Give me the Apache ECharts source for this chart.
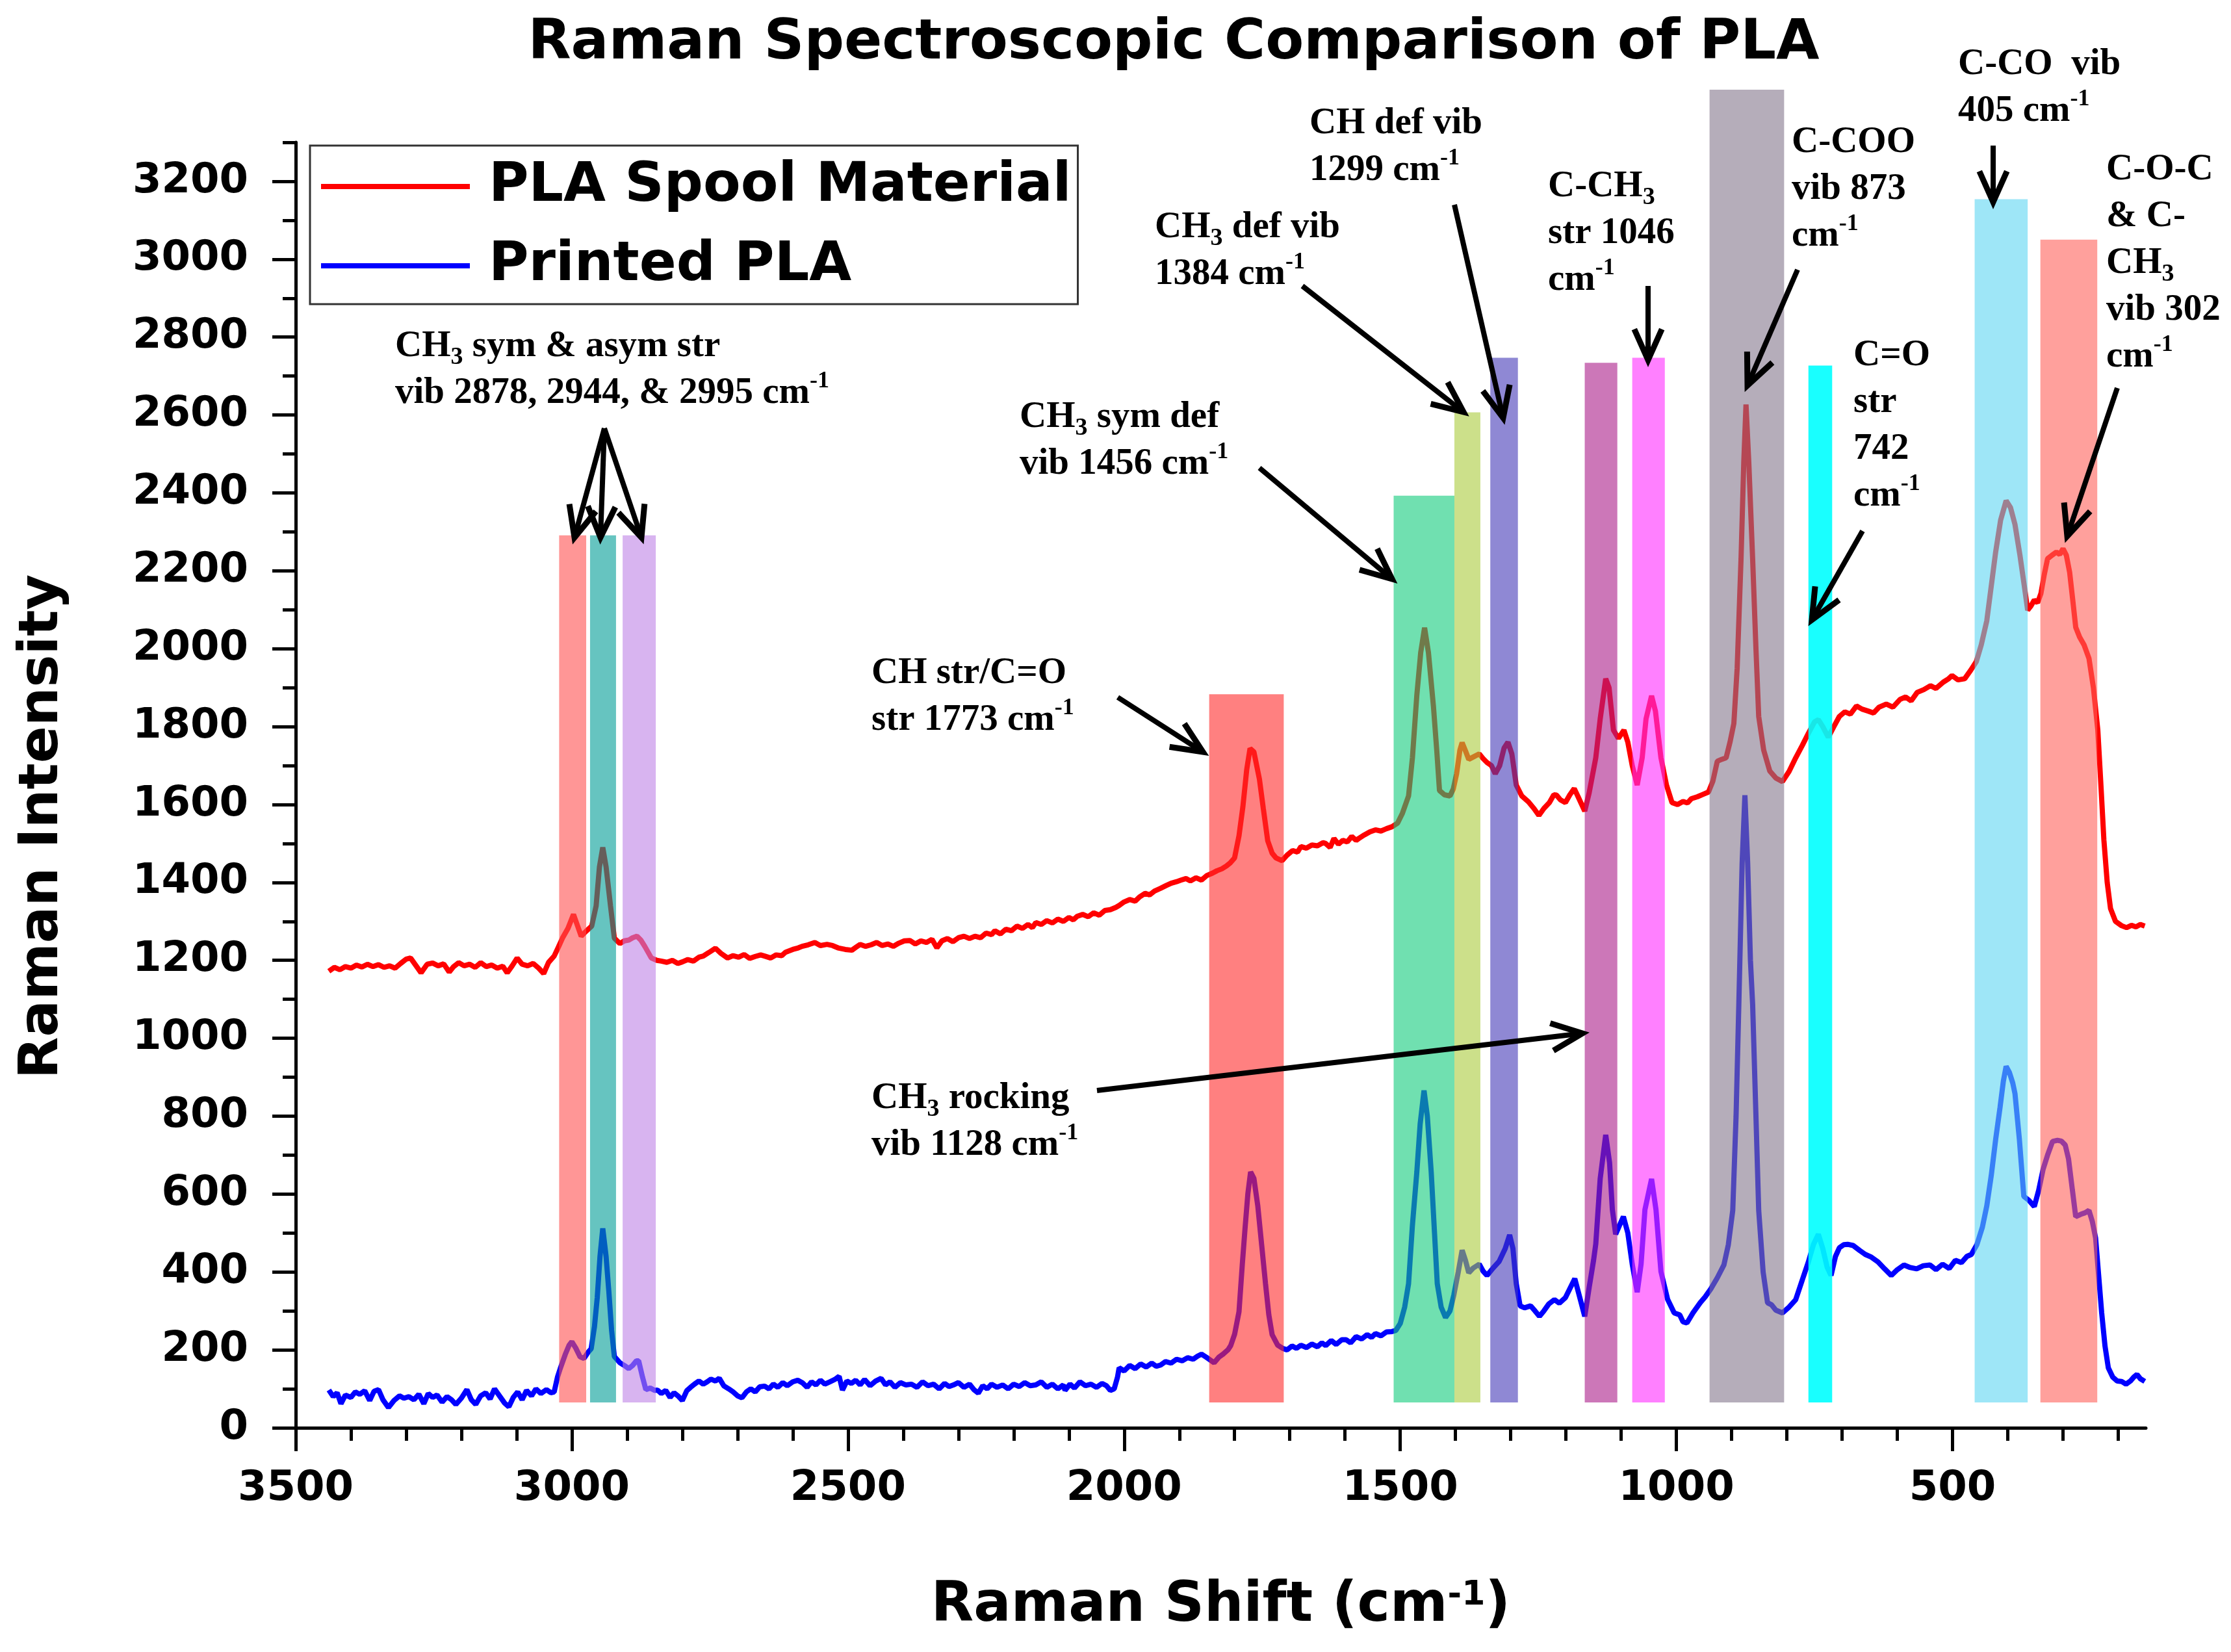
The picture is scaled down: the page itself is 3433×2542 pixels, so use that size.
<!DOCTYPE html>
<html>
<head>
<meta charset="utf-8">
<title>Raman Spectroscopic Comparison of PLA</title>
<script src="https://cdn.jsdelivr.net/npm/echarts@6/dist/echarts.min.js"></script>
<style>
html, body { margin: 0; padding: 0; background: #fff; }
#chart { width: 3433px; height: 2542px; }
</style>
</head>
<body>
<div id="chart"></div>
<script>
// Raman shift (cm-1), intensity
const spoolPLA = [
  [3440,1172],[3430,1182],[3420,1176],[3410,1184],[3400,1180],[3390,1188],[3380,1183],[3370,1190],[3360,1184],[3350,1189],
  [3340,1182],[3330,1186],[3320,1180],[3310,1192],[3300,1203],[3292,1206],[3283,1188],[3273,1168],[3262,1190],[3252,1193],
  [3242,1186],[3232,1191],[3222,1170],[3214,1184],[3205,1194],[3195,1186],[3185,1190],[3175,1182],[3165,1194],[3155,1184],
  [3145,1188],[3135,1180],[3125,1185],[3117,1168],[3108,1186],[3099,1206],[3090,1190],[3080,1186],[3070,1192],[3060,1180],
  [3051,1166],[3042,1195],[3032,1211],[3024,1235],[3017,1257],[3007,1282],[2997,1318],[2990,1290],[2983,1262],[2974,1275],
  [2964,1288],[2956,1340],[2950,1440],[2944,1490],[2938,1440],[2930,1340],[2923,1257],[2913,1243],[2905,1250],[2897,1252],
  [2890,1258],[2882,1262],[2875,1252],[2868,1236],[2856,1206],[2846,1200],[2838,1198],[2828,1195],[2818,1200],[2808,1192],
  [2800,1196],[2790,1202],[2780,1198],[2770,1208],[2762,1211],[2752,1220],[2740,1231],[2730,1218],[2718,1206],[2708,1212],
  [2698,1208],[2688,1215],[2678,1205],[2668,1210],[2658,1214],[2651,1211],[2640,1206],[2630,1214],[2620,1212],[2613,1221],
  [2600,1228],[2590,1232],[2583,1236],[2572,1240],[2560,1246],[2550,1238],[2538,1241],[2528,1238],[2518,1232],[2505,1228],
  [2493,1226],[2485,1234],[2478,1241],[2468,1236],[2458,1240],[2448,1246],[2438,1238],[2428,1242],[2418,1236],[2408,1244],
  [2398,1250],[2388,1251],[2378,1242],[2368,1250],[2358,1246],[2348,1254],[2339,1232],[2330,1250],[2320,1256],[2310,1248],
  [2300,1258],[2290,1262],[2280,1256],[2270,1262],[2260,1258],[2250,1270],[2240,1266],[2234,1276],[2224,1268],[2214,1280],
  [2204,1276],[2194,1288],[2184,1282],[2174,1292],[2166,1284],[2160,1297],[2150,1292],[2140,1302],[2130,1296],[2120,1306],
  [2110,1300],[2100,1310],[2092,1304],[2085,1313],[2075,1318],[2065,1312],[2055,1322],[2045,1316],[2035,1328],[2025,1330],
  [2015,1336],[2009,1341],[2000,1350],[1990,1356],[1980,1352],[1972,1363],[1962,1372],[1954,1368],[1945,1378],[1934,1385],
  [1924,1392],[1915,1398],[1905,1402],[1897,1406],[1888,1410],[1880,1404],[1870,1412],[1860,1406],[1850,1418],[1840,1424],
  [1832,1430],[1823,1435],[1815,1442],[1808,1450],[1800,1463],[1792,1520],[1785,1594],[1778,1690],[1772,1744],[1765,1735],
  [1760,1700],[1755,1665],[1748,1590],[1740,1507],[1732,1475],[1725,1463],[1714,1456],[1705,1470],[1695,1482],[1686,1478],
  [1680,1492],[1670,1488],[1660,1496],[1650,1494],[1640,1502],[1635,1500],[1627,1490],[1620,1513],[1612,1498],[1604,1508],
  [1596,1504],[1588,1518],[1580,1508],[1575,1513],[1565,1522],[1555,1530],[1545,1535],[1535,1532],[1525,1538],[1515,1543],
  [1505,1552],[1496,1578],[1485,1622],[1478,1720],[1470,1881],[1463,1990],[1456,2054],[1449,1990],[1440,1853],[1434,1740],
  [1429,1636],[1420,1625],[1410,1622],[1404,1640],[1398,1679],[1392,1740],[1388,1759],[1382,1738],[1376,1716],[1368,1722],
  [1357,1730],[1350,1718],[1343,1708],[1335,1700],[1328,1679],[1320,1700],[1312,1745],[1305,1760],[1298,1730],[1290,1650],
  [1280,1622],[1268,1607],[1258,1590],[1249,1572],[1240,1590],[1230,1605],[1222,1625],[1217,1624],[1210,1612],[1201,1605],
  [1193,1625],[1185,1641],[1178,1620],[1166,1583],[1158,1630],[1150,1690],[1146,1720],[1138,1820],[1128,1923],[1122,1900],
  [1114,1791],[1105,1770],[1095,1791],[1088,1760],[1080,1700],[1071,1650],[1062,1720],[1055,1820],[1045,1879],[1038,1840],
  [1028,1720],[1018,1650],[1008,1605],[998,1600],[988,1608],[980,1604],[973,1615],[962,1620],[952,1626],[942,1632],
  [934,1660],[926,1711],[918,1716],[910,1720],[903,1760],[896,1808],[890,1950],[883,2231],[878,2480],[874,2627],
  [869,2480],[862,2231],[856,2000],[851,1826],[842,1740],[831,1686],[820,1668],[808,1659],[796,1685],[784,1720],
  [772,1752],[761,1783],[750,1812],[743,1818],[735,1800],[725,1773],[715,1800],[705,1826],[695,1838],[685,1832],
  [674,1853],[664,1845],[653,1840],[643,1835],[633,1850],[620,1858],[608,1850],[595,1870],[585,1876],[575,1866],
  [564,1888],[552,1895],[540,1905],[530,1898],[517,1914],[508,1922],[501,1931],[490,1920],[478,1923],[467,1945],
  [457,1967],[448,2010],[438,2072],[430,2160],[422,2248],[413,2330],[403,2380],[395,2362],[387,2319],[378,2240],
  [370,2160],[364,2099],[358,2110],[352,2125],[346,2118],[340,2142],[334,2190],[328,2231],[320,2240],[312,2248],
  [306,2242],[300,2257],[294,2240],[288,2196],[282,2120],[277,2055],[270,2030],[262,2010],[253,1975],[245,1900],
  [237,1791],[231,1640],[226,1509],[220,1400],[214,1333],[205,1300],[194,1289],[185,1284],[176,1290],[168,1286],
  [160,1292],[152,1288]
];

const printedPLA = [
  [3440,97],[3432,80],[3425,90],[3418,62],[3410,84],[3400,78],[3392,92],[3384,86],[3375,95],[3366,70],
  [3358,94],[3350,98],[3342,72],[3332,52],[3322,70],[3312,82],[3304,76],[3295,80],[3286,72],[3277,86],
  [3268,62],[3260,88],[3252,78],[3244,84],[3235,66],[3226,80],[3218,72],[3210,60],[3200,76],[3190,98],
  [3182,72],[3174,60],[3165,82],[3156,90],[3148,74],[3140,100],[3131,82],[3122,64],[3114,54],[3106,78],
  [3098,92],[3090,72],[3082,96],[3073,82],[3065,100],[3056,88],[3046,98],[3038,90],[3032,92],[3026,130],
  [3021,152],[3012,188],[3005,212],[3000,221],[2993,205],[2985,182],[2978,178],[2970,195],[2965,203],[2959,260],
  [2954,334],[2949,440],[2944,512],[2938,440],[2933,350],[2928,250],[2923,183],[2913,167],[2905,160],[2897,152],
  [2890,160],[2883,172],[2879,172],[2872,130],[2866,98],[2858,102],[2850,96],[2845,97],[2838,88],[2830,96],
  [2822,78],[2815,90],[2808,82],[2800,70],[2792,95],[2785,104],[2778,112],[2770,120],[2762,112],[2755,118],
  [2748,125],[2740,120],[2733,127],[2725,108],[2716,100],[2708,92],[2700,82],[2692,77],[2684,92],[2676,100],
  [2668,92],[2660,105],[2651,107],[2643,100],[2635,112],[2627,104],[2618,116],[2610,108],[2600,118],[2591,122],
  [2582,115],[2574,104],[2566,118],[2558,110],[2550,122],[2542,112],[2533,118],[2524,124],[2516,132],[2510,97],
  [2502,120],[2494,114],[2486,122],[2478,110],[2470,124],[2460,108],[2450,120],[2440,127],[2432,110],[2424,118],
  [2415,104],[2405,116],[2395,110],[2385,112],[2375,104],[2365,118],[2355,108],[2345,112],[2335,100],[2325,114],
  [2317,106],[2309,110],[2300,116],[2290,104],[2280,112],[2272,98],[2264,89],[2256,108],[2248,100],[2240,112],
  [2230,104],[2220,110],[2210,100],[2200,112],[2190,106],[2180,116],[2170,108],[2160,110],[2150,118],[2140,104],
  [2130,112],[2120,100],[2110,110],[2107,96],[2098,112],[2090,102],[2080,118],[2070,108],[2060,112],[2050,104],
  [2040,114],[2032,108],[2025,96],[2018,100],[2012,130],[2009,154],[2000,146],[1990,160],[1980,152],[1970,164],
  [1960,156],[1950,166],[1942,158],[1934,161],[1925,170],[1915,166],[1905,176],[1895,172],[1885,180],[1875,176],
  [1867,184],[1860,189],[1850,180],[1842,172],[1837,167],[1828,182],[1820,190],[1812,200],[1807,211],[1800,240],
  [1792,298],[1786,420],[1781,513],[1776,600],[1771,657],[1765,640],[1758,570],[1751,470],[1744,370],[1738,290],
  [1732,239],[1722,212],[1713,204],[1705,200],[1696,210],[1688,204],[1680,212],[1670,206],[1660,215],[1650,208],
  [1642,218],[1635,211],[1625,224],[1616,214],[1606,226],[1598,226],[1590,218],[1580,234],[1570,228],[1560,239],
  [1552,232],[1545,242],[1535,236],[1525,246],[1515,247],[1508,250],[1500,268],[1492,310],[1485,370],[1478,520],
  [1470,657],[1464,780],[1457,866],[1451,800],[1444,657],[1438,500],[1433,370],[1426,310],[1418,283],[1410,300],
  [1403,341],[1395,400],[1388,456],[1382,430],[1376,398],[1368,410],[1357,420],[1350,402],[1343,391],[1332,410],
  [1321,427],[1310,460],[1302,495],[1296,460],[1290,370],[1283,313],[1275,308],[1264,313],[1256,300],[1248,286],
  [1240,300],[1231,318],[1221,329],[1212,320],[1201,334],[1192,360],[1184,383],[1176,340],[1166,286],[1158,360],
  [1150,430],[1146,472],[1138,640],[1128,752],[1121,680],[1116,560],[1110,497],[1103,520],[1096,542],[1088,500],
  [1080,420],[1071,348],[1064,420],[1057,560],[1045,639],[1037,560],[1028,401],[1016,330],[1004,295],[994,290],
  [988,272],[981,269],[970,295],[957,321],[948,336],[938,356],[926,385],[914,418],[906,470],[898,558],
  [892,800],[887,1087],[881,1450],[876,1624],[871,1450],[866,1200],[862,1087],[856,800],[851,558],[843,400],
  [835,321],[828,316],[820,302],[808,295],[796,310],[784,329],[772,380],[761,426],[752,470],[743,497],
  [735,460],[727,412],[720,391],[712,440],[705,462],[697,470],[690,471],[680,468],[668,455],[658,445],
  [647,438],[635,426],[623,408],[611,391],[600,406],[588,418],[578,412],[565,408],[553,416],[541,418],
  [530,406],[518,420],[506,409],[495,430],[484,424],[474,440],[466,445],[456,470],[446,515],[438,570],
  [430,647],[422,740],[414,823],[408,890],[403,928],[397,912],[391,885],[387,858],[379,740],[371,594],
  [362,584],[352,568],[344,610],[336,664],[328,700],[319,735],[310,738],[303,736],[296,726],[290,690],
  [283,610],[277,542],[268,548],[260,552],[253,558],[247,530],[241,487],[236,400],[230,295],[224,210],
  [218,154],[210,130],[202,120],[194,119],[186,112],[178,120],[172,130],[166,137],[160,126],[152,119]
];

// highlighted vibration bands: start shift, end shift, top intensity
const bandFrom = [3023, 2967, 2908, 1846, 1512, 1402, 1337, 1166, 1080, 940, 761, 460, 341];
const bandTo   = [2974, 2920, 2848, 1711, 1402, 1355, 1287, 1107, 1021, 805, 718, 364, 238];
const bandTop  = [2291, 2291, 2291, 1883, 2393, 2607, 2747, 2734, 2747, 3435, 2727, 3154, 3050];
const bandBottom = 65;
const bandColors = ['#ff5050', '#009d96', '#be82e6', '#ff2b2b', '#11cb7b', '#aacb3c', '#4439b7',
                    '#aa1c89', '#ff2bff', '#84768c', '#00ffff', '#5dd5f2', '#ff615a'];
const bandOpacity = [0.6, 0.6, 0.6, 0.6, 0.6, 0.6, 0.6, 0.6, 0.6, 0.6, 0.9, 0.6, 0.6];

const xMajorTicks = [3500, 3000, 2500, 2000, 1500, 1000, 500];
const xMinorTicks = [3400, 3300, 3200, 3100, 2900, 2800, 2700, 2600, 2400, 2300, 2200, 2100,
                     1900, 1800, 1700, 1600, 1400, 1300, 1200, 1100, 900, 800, 700, 600, 400, 300, 200];
const yMajorTicks = [0, 200, 400, 600, 800, 1000, 1200, 1400, 1600, 1800, 2000, 2200, 2400, 2600, 2800, 3000, 3200];
const yMinorTicks = [100, 300, 500, 700, 900, 1100, 1300, 1500, 1700, 1900, 2100, 2300, 2500, 2700, 2900, 3100, 3300];

const SANS = 'DejaVu Sans';
const SERIF = 'Liberation Serif';

const chart = echarts.init(document.getElementById('chart'));

const noteRich = {
  sub: { fontFamily: SERIF, fontWeight: 'bold', fontSize: 38, lineHeight: 46, verticalAlign: 'bottom', fill: '#000' },
  sup: { fontFamily: SERIF, fontWeight: 'bold', fontSize: 36, lineHeight: 46, verticalAlign: 'top', fill: '#000' }
};

function note(x, y, lines) {
  return {
    type: 'text', x: x, y: y, z: 20,
    style: {
      text: lines.join('\n'),
      rich: noteRich,
      font: 'bold 57px "' + SERIF + '"',
      lineHeight: 72,
      fill: '#000',
      align: 'left',
      verticalAlign: 'top'
    }
  };
}

function arrow(x1, y1, x2, y2) {
  const dx = x2 - x1, dy = y2 - y1;
  const len = Math.sqrt(dx * dx + dy * dy);
  const ux = dx / len, uy = dy / len;
  const head = 52, a = 0.42, c = Math.cos(a), s = Math.sin(a);
  const lx = x2 + head * (-ux * c + uy * s), ly = y2 + head * (-uy * c - ux * s);
  const rx = x2 + head * (-ux * c - uy * s), ry = y2 + head * (-uy * c + ux * s);
  return [
    { type: 'line', z: 20, shape: { x1: x1, y1: y1, x2: x2 - ux * 4, y2: y2 - uy * 4 }, style: { stroke: '#000', lineWidth: 8 } },
    { type: 'polyline', z: 20, shape: { points: [[lx, ly], [x2, y2], [rx, ry]] },
      style: { stroke: '#000', lineWidth: 9, fill: null, lineJoin: 'miter' } }
  ];
}

const notes = [
  note(608, 497, ['CH{sub|3} sym & asym str', 'vib 2878, 2944, & 2995 cm{sup|-1}']),
  note(1569, 606, ['CH{sub|3} sym def', 'vib 1456 cm{sup|-1}']),
  note(1777, 314, ['CH{sub|3} def vib', '1384 cm{sup|-1}']),
  note(2015, 154, ['CH def vib', '1299 cm{sup|-1}']),
  note(2382, 251, ['C-CH{sub|3}', 'str 1046', 'cm{sup|-1}']),
  note(2757, 183, ['C-COO', 'vib 873', 'cm{sup|-1}']),
  note(2852, 511, ['C=O', 'str', '742', 'cm{sup|-1}']),
  note(3013, 63, ['C-CO  vib', '405 cm{sup|-1}']),
  note(3241, 225, ['C-O-C', '& C-', 'CH{sub|3}', 'vib 302', 'cm{sup|-1}']),
  note(1341, 1000, ['CH str/C=O', 'str 1773 cm{sup|-1}']),
  note(1341, 1654, ['CH{sub|3} rocking', 'vib 1128 cm{sup|-1}'])
];

const arrows = [].concat(
  arrow(930, 659, 884, 827), arrow(930, 659, 924, 827), arrow(930, 659, 987, 827),
  arrow(1938, 720, 2142, 891),
  arrow(2004, 440, 2252, 634),
  arrow(2238, 315, 2313, 643),
  arrow(2536, 440, 2536, 554),
  arrow(2766, 415, 2689, 593),
  arrow(2866, 817, 2788, 954),
  arrow(3067, 224, 3067, 311),
  arrow(3258, 597, 3181, 825),
  arrow(1720, 1073, 1851, 1157),
  arrow(1688, 1678, 2435, 1590)
);

const bandData = bandFrom.map(function (f, i) { return [f, bandTo[i], bandTop[i]]; });

const axisBlack = { color: '#000', width: 5 };
const plainNumber = function (v) { return String(v); };

const option = {
  backgroundColor: '#fff',
  animation: false,
  title: {
    text: 'Raman Spectroscopic Comparison of PLA',
    left: 1801, top: 20, textAlign: 'center',
    textStyle: { fontFamily: SANS, fontWeight: 'bold', fontSize: 86, color: '#000' }
  },
  legend: {
    data: ['PLA Spool Material', 'Printed PLA'],
    orient: 'vertical',
    left: 477, top: 224,
    icon: 'rect',
    itemWidth: 229, itemHeight: 8, itemGap: 22,
    padding: [13, 10, 9, 17],
    borderColor: '#333', borderWidth: 3,
    textStyle: { fontFamily: SANS, fontWeight: 'bold', fontSize: 84, lineHeight: 100, color: '#000', padding: [0, 0, 0, 24] }
  },
  grid: { left: 455, right: 131, top: 219, bottom: 345 },
  xAxis: [
    {
      type: 'value', min: 150, max: 3500, inverse: true, position: 'bottom',
      name: 'Raman Shift (cm{sup|-1})',
      nameLocation: 'middle', nameGap: 232,
      nameTextStyle: {
        fontFamily: SANS, fontWeight: 'bold', fontSize: 85, color: '#000',
        rich: { sup: { fontFamily: SANS, fontWeight: 'bold', fontSize: 52, lineHeight: 60, verticalAlign: 'top', color: '#000' } }
      },
      axisLine: { onZero: false, lineStyle: axisBlack },
      axisTick: { customValues: xMajorTicks, length: 36, lineStyle: axisBlack },
      axisLabel: { customValues: xMajorTicks, formatter: plainNumber, margin: 62, fontFamily: SANS, fontWeight: 'bold', fontSize: 64, color: '#000' },
      splitLine: { show: false }
    },
    {
      type: 'value', min: 150, max: 3500, inverse: true, position: 'bottom',
      axisLine: { show: false, onZero: false },
      axisTick: { customValues: xMinorTicks, length: 20, lineStyle: axisBlack },
      axisLabel: { show: false },
      splitLine: { show: false }
    }
  ],
  yAxis: [
    {
      type: 'value', min: 0, max: 3300, position: 'left',
      name: 'Raman Intensity',
      nameLocation: 'middle', nameGap: 347,
      nameTextStyle: { fontFamily: SANS, fontWeight: 'bold', fontSize: 84, color: '#000', padding: [0, 128, 0, 0] },
      axisLine: { show: true, onZero: false, lineStyle: axisBlack },
      axisTick: { customValues: yMajorTicks, length: 36, lineStyle: axisBlack },
      axisLabel: { customValues: yMajorTicks, formatter: plainNumber, margin: 73, fontFamily: SANS, fontWeight: 'bold', fontSize: 64, color: '#000' },
      splitLine: { show: false }
    },
    {
      type: 'value', min: 0, max: 3300, position: 'left',
      axisLine: { show: false, onZero: false },
      axisTick: { customValues: yMinorTicks, length: 20, lineStyle: axisBlack },
      axisLabel: { show: false },
      splitLine: { show: false }
    }
  ],
  series: [
    {
      name: 'PLA Spool Material', type: 'line', data: spoolPLA, z: 2,
      showSymbol: false, symbol: 'none',
      lineStyle: { color: '#ff0000', width: 8 }, itemStyle: { color: '#ff0000' }
    },
    {
      name: 'Printed PLA', type: 'line', data: printedPLA, z: 2,
      showSymbol: false, symbol: 'none',
      lineStyle: { color: '#0000ff', width: 8 }, itemStyle: { color: '#0000ff' }
    },
    {
      name: 'bands', type: 'custom', data: bandData, z: 3, clip: false,
      encode: { x: [0, 1], y: 2 },
      renderItem: function (params, api) {
        const p1 = api.coord([api.value(0), api.value(2)]);
        const p2 = api.coord([api.value(1), bandBottom]);
        return {
          type: 'rect',
          shape: { x: Math.min(p1[0], p2[0]), y: p1[1], width: Math.abs(p2[0] - p1[0]), height: p2[1] - p1[1] },
          style: { fill: bandColors[params.dataIndex], opacity: bandOpacity[params.dataIndex] }
        };
      }
    }
  ],
  graphic: { elements: notes.concat(arrows) }
};

chart.setOption(option);
</script>
</body>
</html>
